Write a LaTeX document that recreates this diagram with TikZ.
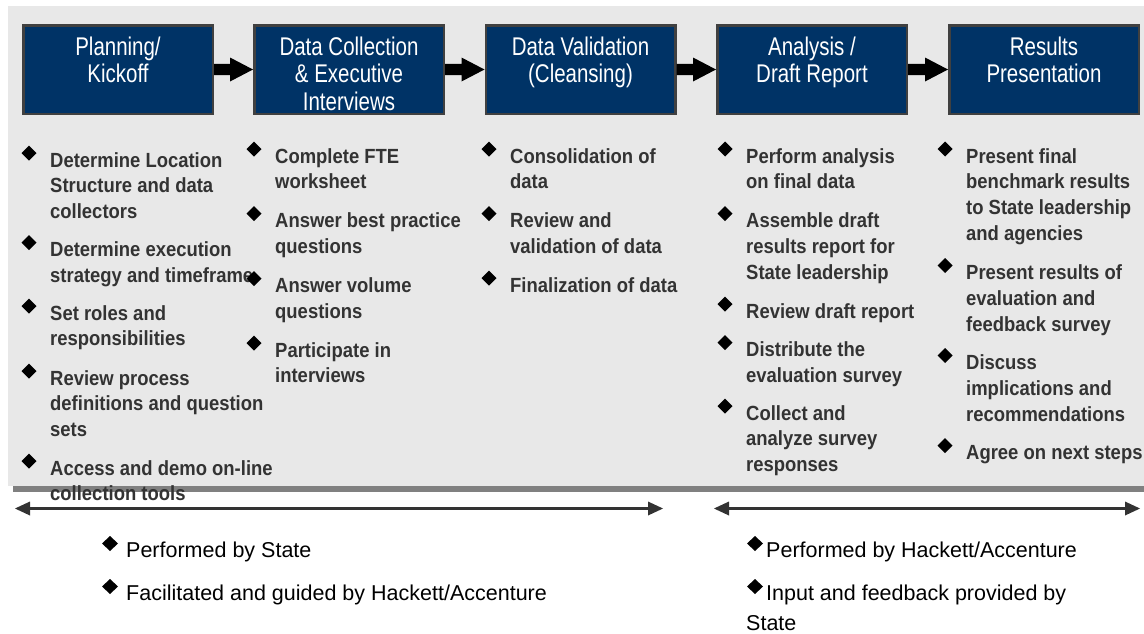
\documentclass[tikz,border=0pt]{standalone}
\usepackage{fontspec}
\setmainfont{Liberation Sans}
\newfontfamily\boxfont[FakeStretch=0.8]{Liberation Sans}
\newfontfamily\bodyfont[FakeStretch=0.9]{Liberation Sans}
\usetikzlibrary{calc,arrows.meta}
\definecolor{panelc}{HTML}{E8E8E8}
\definecolor{shadowc}{HTML}{808080}
\definecolor{navy}{HTML}{003366}
\definecolor{boxborder}{HTML}{404040}
\definecolor{bodyc}{HTML}{333333}
\definecolor{linec}{HTML}{333333}
\tikzset{
  stagebox/.style={draw=boxborder, line width=2.5pt, fill=navy, minimum width=189.5pt, minimum height=88.5pt, inner sep=0pt},
  stagetext/.style={text=white, inner sep=0pt, anchor=base, font=\boxfont\fontsize{25.6}{27.5}\selectfont},
  bodytext/.style={text=bodyc, inner sep=0pt, anchor=base west, font=\bodyfont\bfseries\fontsize{20.5}{25.75}\selectfont},
  legendtext/.style={text=black, inner sep=0pt, anchor=base west, font=\fontsize{21.5}{30}\selectfont},
  bulletc/.style={fill=black},
  spanarrow/.style={draw=linec, line width=2.5pt, {Triangle[length=15pt,width=14pt,line width=0pt]}-{Triangle[length=15pt,width=14pt,line width=0pt]}}
}
\newcommand\blockarr[2]{%
  \fill[black] ($(#1.east)+(0,-5.7)$) -- ($(#2.west)+(-23,-5.7)$) -- ($(#2.west)+(-23,-12)$) -- (#2.west) -- ($(#2.west)+(-23,12)$) -- ($(#2.west)+(-23,5.7)$) -- ($(#1.east)+(0,5.7)$) -- cycle;}
\newcommand\bitem[4]{%
  \node[bodytext] (#1) at (#2,#3) {\parbox[t]{260pt}{\raggedright #4}};
  \fill[bulletc] ($(#1.base west)+(-21,-14)$) +(-7.5,0) -- +(0,-7.5) -- +(7.5,0) -- +(0,7.5) -- cycle;}
\newcommand\lbullet[2]{%
  \fill[bulletc] ($(#1.base west)+(#2,-13.5)$) +(-8,0) -- +(0,-7.5) -- +(8,0) -- +(0,7.5) -- cycle;}
\begin{document}
\begin{tikzpicture}[x=1pt,y=-1pt]
\fill[white] (0,0) rectangle (1144,633);
\useasboundingbox (0,0) rectangle (1144,633);
% panel with shadow
\fill[shadowc] (13,11) rectangle (1144,491.7);
\fill[panelc] (8,6) rectangle (1144,485.7);
% stage boxes
\node[stagebox] (b1) at (118,69.5) {};
\node[stagebox] (b2) at (349,69.5) {};
\node[stagebox] (b3) at (580.5,69.5) {};
\node[stagebox] (b4) at (812,69.5) {};
\node[stagebox] (b5) at (1044,69.5) {};
\node[stagetext] (t1) at ($(b1.north)+(0,31)$) {\parbox[t]{190pt}{\centering Planning/\\Kickoff}};
\node[stagetext] (t2) at ($(b2.north)+(0,31)$) {\parbox[t]{190pt}{\centering Data Collection\\\& Executive\\Interviews}};
\node[stagetext] (t3) at ($(b3.north)+(0,31)$) {\parbox[t]{190pt}{\centering Data Validation\\(Cleansing)}};
\node[stagetext] (t4) at ($(b4.north)+(0,31)$) {\parbox[t]{190pt}{\centering Analysis /\\Draft Report}};
\node[stagetext] (t5) at ($(b5.north)+(0,31)$) {\parbox[t]{190pt}{\centering Results\\Presentation}};
\blockarr{b1}{b2}
\blockarr{b2}{b3}
\blockarr{b3}{b4}
\blockarr{b4}{b5}
% column 1
\bitem{c1a}{50}{167}{Determine Location\\Structure and data\\collectors}
\bitem{c1b}{50}{256.5}{Determine execution\\strategy and timeframe}
\bitem{c1c}{50}{320}{Set roles and\\responsibilities}
\bitem{c1d}{50}{385}{Review process\\definitions and question\\sets}
\bitem{c1e}{50}{475}{Access and demo on-line\\collection tools}
% column 2
\bitem{c2a}{275}{163}{Complete FTE\\worksheet}
\bitem{c2b}{275}{227.5}{Answer best practice\\questions}
\bitem{c2c}{275}{292.5}{Answer volume\\questions}
\bitem{c2d}{275}{357}{Participate in\\interviews}
% column 3
\bitem{c3a}{510}{163}{Consolidation of\\data}
\bitem{c3b}{510}{227.5}{Review and\\validation of data}
\bitem{c3c}{510}{292}{Finalization of data}
% column 4
\bitem{c4a}{746}{163}{Perform analysis\\on final data}
\bitem{c4b}{746}{227.5}{Assemble draft\\results report for\\State leadership}
\bitem{c4c}{746}{318}{Review draft report}
\bitem{c4d}{746}{356.5}{Distribute the\\evaluation survey}
\bitem{c4e}{746}{420}{Collect and\\analyze survey\\responses}
% column 5
\bitem{c5a}{966}{163}{Present final\\benchmark results\\to State leadership\\and agencies}
\bitem{c5b}{966}{279.5}{Present results of\\evaluation and\\feedback survey}
\bitem{c5c}{966}{369.5}{Discuss\\implications and\\recommendations}
\bitem{c5d}{966}{459.5}{Agree on next steps}
% span arrows
\coordinate (la) at (15,508.5);
\coordinate (lb) at (663,508.5);
\coordinate (ra) at (714,508.5);
\coordinate (rb) at (1140,508.5);
\draw[spanarrow] (la) -- (lb);
\draw[spanarrow] (ra) -- (rb);
% legend
\node[legendtext] (l1) at (102,557) {\hspace*{24pt}Performed by State};
\node[legendtext] (l2) at (102,600) {\hspace*{24pt}Facilitated and guided by Hackett/Accenture};
\node[legendtext] (r1) at (746,557) {\hspace*{20pt}Performed by Hackett/Accenture};
\node[legendtext] (r2) at (746,600) {\parbox[t]{400pt}{\raggedright\hspace*{20pt}Input and feedback provided by\\State}};
\lbullet{l1}{8}
\lbullet{l2}{8}
\lbullet{r1}{9}
\lbullet{r2}{9}
\end{tikzpicture}
\end{document}
